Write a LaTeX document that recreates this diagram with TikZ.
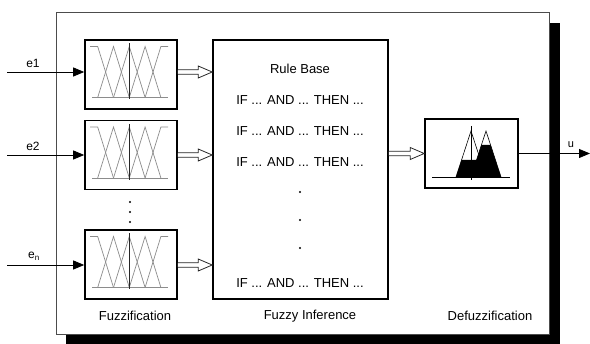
\documentclass[tikz,border=0pt]{standalone}
\usepackage{fontspec}
\setmainfont{Liberation Sans}
\usetikzlibrary{arrows.meta}
\begin{document}
\begin{tikzpicture}[x=1pt,y=-1pt,
  fbox/.style={draw=black,line width=1.6pt,fill=white,minimum width=92pt,minimum height=69pt,inner sep=0pt},
  rbox/.style={draw=black,line width=1.6pt,fill=white,minimum width=175pt,minimum height=259pt,inner sep=0pt},
  lbl/.style={font=\fontsize{13}{15}\selectfont,inner sep=0pt},
  inlbl/.style={font=\fontsize{12}{14}\selectfont,inner sep=0pt},
  inarrow/.style={line width=0.8pt,-{Triangle[length=11pt,width=9pt]}},
  hol/.style={draw=black!85,line width=0.8pt,fill=white,line join=miter},
  mf/.style={draw=black!45,line width=0.7pt},
  dotmark/.style={fill=black,circle,inner sep=0pt,minimum size=2.4pt},
  mfs/.pic={
    \draw[mf] (-39,23) -- (37,23);
    \draw[mf] (-41,-28) -- (-33.3,-28) -- (-17.5,23);
    \draw[mf] (-33.3,23) -- (-17.5,-28) -- (-1.7,23);
    \draw[mf] (-17.5,23) -- (-1.7,-28) -- (14.1,23);
    \draw[mf] (-1.7,23) -- (14.1,-28) -- (29.9,23);
    \draw[mf] (14.1,23) -- (29.9,-28) -- (37,-28);
    \draw[black!85,line width=0.7pt] (-1.7,-31) -- (-1.7,25);
  }]
\useasboundingbox (0,0) rectangle (590,344);
\fill[white] (0,0) rectangle (590,344);
% shadow and outer frame
\fill[black] (66,23) rectangle (560,344);
\draw[draw=black!70,line width=0.9pt,fill=white] (56,12) rectangle (549,334);
% fuzzification boxes
\node[fbox] (f1) at (131,74.5) {};
\node[fbox] (f2) at (131,155) {};
\node[fbox] (f3) at (131,264.5) {};
\pic at (f1.center) {mfs};
\pic at (f2.center) {mfs};
\pic at (f3.center) {mfs};
\node[dotmark] (v1) at (130,202) {};
\node[dotmark] (v2) at (130,212) {};
\node[dotmark] (v3) at (130,222) {};
% rule base
\node[rbox] (rb) at (300.5,169.5) {};
\node[lbl] (t0) at (300,69) {Rule Base};
\node[lbl] (t1) at (300,100) {IF ... AND ... THEN ...};
\node[lbl] (t2) at (300,131) {IF ... AND ... THEN ...};
\node[lbl] (t3) at (300,162) {IF ... AND ... THEN ...};
\node[dotmark] (d1) at (300,192) {};
\node[dotmark] (d2) at (300,220) {};
\node[dotmark] (d3) at (300,248) {};
\node[lbl] (t4) at (300,283) {IF ... AND ... THEN ...};
% defuzzification box
\node[fbox,minimum width=93pt] (dz) at (471.5,153.5) {};
\begin{scope}
  \fill[black] (456,177) -- (461.5,160) -- (480.5,160) -- (486,177) -- cycle;
  \fill[black] (471,177) -- (481.4,145) -- (490.6,145) -- (501,177) -- cycle;
  \draw[black,line width=0.6pt,line join=miter] (456,177) -- (471,131) -- (486,177);
  \draw[black,line width=0.6pt,line join=miter] (471,177) -- (486,131) -- (501,177);
  \draw[black,line width=0.8pt] (432,177) -- (510,177);
  \draw[black,line width=0.8pt] (471,126) -- (471,180);
\end{scope}
% labels
\node[lbl] (lf) at (135,316) {Fuzzification};
\node[lbl] (li) at (310,316) {Fuzzy Inference};
\node[lbl] (ld) at (490,316) {Defuzzification};
% inputs
\coordinate (in1) at (7,72);
\coordinate (in2) at (7,155);
\coordinate (in3) at (7,265);
\draw[inarrow] (in1) -- (in1 -| f1.west);
\draw[inarrow] (in2) -- (in2 -| f2.west);
\draw[inarrow] (in3) -- (in3 -| f3.west);
\node[inlbl] (e1) at (33,63) {e1};
\node[inlbl] (e2) at (33,146) {e2};
\node[inlbl] (en) at (34,256) {e\textsubscript{n}};
% hollow arrows
\newcommand\holarrow[2]{%
  \draw[hol] ([yshift=2.2pt]#1) -- ([xshift=-14pt,yshift=2.2pt]#2) -- ([xshift=-14pt,yshift=6pt]#2) -- (#2) -- ([xshift=-14pt,yshift=-6pt]#2) -- ([xshift=-14pt,yshift=-2.2pt]#2) -- ([yshift=-2.2pt]#1);}
\coordinate (h1a) at (f1.east |- in1);
\coordinate (h1b) at (rb.west |- in1);
\coordinate (h2a) at (f2.east |- in2);
\coordinate (h2b) at (rb.west |- in2);
\coordinate (h3a) at (f3.east |- in3);
\coordinate (h3b) at (rb.west |- in3);
\coordinate (h4a) at (rb.east |- dz.west);
\holarrow{h1a}{h1b}
\holarrow{h2a}{h2b}
\holarrow{h3a}{h3b}
\holarrow{h4a}{dz.west}
% output
\coordinate (out) at (590,153.5);
\draw[inarrow] (dz.east) -- (out);
\node[font=\fontsize{11}{13}\selectfont,inner sep=0pt] (u) at (571,145) {u};
\end{tikzpicture}
\end{document}
